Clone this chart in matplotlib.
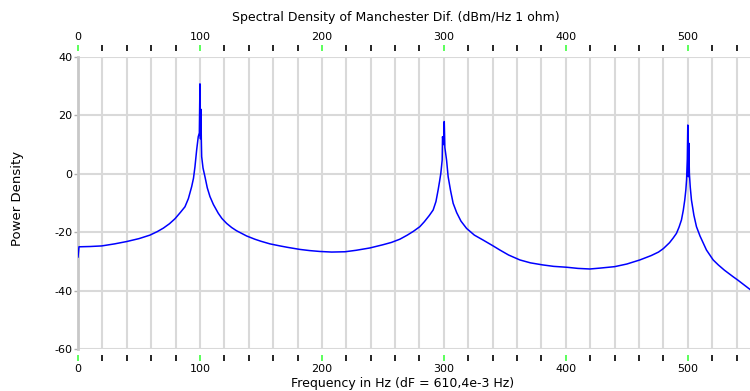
import matplotlib
matplotlib.use("Agg")
import matplotlib.pyplot as plt
from matplotlib.ticker import MultipleLocator

plt.rcParams['font.family'] = ['DejaVu Sans']
plt.rcParams['axes.unicode_minus'] = False

# Power spectral density of the Manchester-coded signal (dBm/Hz)
freq_hz = [0, 0.8, 10, 19.4, 30, 39.9, 50, 59, 65, 70, 75, 79.5, 84, 87.7, 90.5, 93.2,
           94.7, 95.9, 97.3, 98.6, 99.5, 100.0, 100.4, 100.8, 101.1, 101.4, 102.5, 104.1,
           106, 108.2, 111, 115, 118, 121.9, 126, 130, 138.3, 145, 150, 157.4, 165.6,
           172, 182, 190, 198.4, 208, 218.9, 228, 239.3, 250, 257, 263.9, 270, 275,
           280.3, 284, 288, 291.2, 293.5, 295.3, 296.5, 297.5, 298.6, 298.9, 299.7,
           300.3, 300.8, 302.2, 303.5, 305.5, 307.6, 310.5, 314, 318.6, 325, 332.2,
           340, 345.9, 353, 362.3, 371, 381, 390, 400.6, 410, 419.7, 427.9, 440, 450,
           460.7, 470, 476, 480, 485, 488, 490.7, 492.8, 494.8, 496.3, 497.5, 498.4,
           499.0, 499.6, 500.0, 500.4, 500.8, 501.3, 502.0, 503, 505, 507.1, 510,
           515.3, 520.8, 525, 530, 537, 541, 546, 551]
psd_dbm = [-28.5, -25.0, -24.9, -24.7, -24.0, -23.2, -22.2, -21.0, -19.8, -18.6, -17.1,
           -15.4, -13.2, -11.3, -8.5, -4.4, -1.5, 2.4, 8.2, 12.7, 14.0, 30.8, 12.0, 22.1,
           12.0, 5.9, 2.0, -1.0, -4.8, -7.8, -10.5, -13.5, -15.3, -17.0, -18.4, -19.5,
           -21.3, -22.4, -23.1, -24.0, -24.7, -25.2, -25.9, -26.3, -26.6, -26.8, -26.7,
           -26.2, -25.4, -24.3, -23.5, -22.4, -21.0, -19.7, -18.1, -16.4, -14.3, -12.4,
           -9.5, -5.5, -2.5, 0.2, 4.7, 12.7, 10.0, 17.9, 9.0, 4.7, -1.0, -5.8, -10.1,
           -13.3, -16.2, -18.7, -21.0, -22.7, -24.6, -26.1, -27.8, -29.5, -30.5, -31.2,
           -31.7, -32.0, -32.4, -32.6, -32.3, -31.8, -30.9, -29.5, -28.0, -26.8, -25.6,
           -23.6, -22.0, -20.4, -18.3, -15.8, -12.5, -9.0, -5.5, -2.0, 5.0, 16.7, -1.0,
           10.5, 0.0, -4.5, -9.0, -14.2, -18.1, -21.3, -26.1, -29.5, -31.2, -33.0, -35.2,
           -36.4, -38.0, -39.6]

x_major = [0, 100, 200, 300, 400, 500]
y_ticks = [-60, -40, -20, 0, 20, 40]

fig = plt.figure(figsize=(7.5, 3.91), dpi=100)
ax = fig.add_axes([78 / 750, 1 - 349 / 391, 672 / 750, 292 / 391])

ax.plot(freq_hz, psd_dbm, color='#0000ff', lw=1.1, zorder=3)

ax.set_xlim(0, 551)
ax.set_ylim(-60, 40)

grid_c = '#d9d9d9'
ax.xaxis.set_major_locator(MultipleLocator(100))
ax.xaxis.set_minor_locator(MultipleLocator(20))
ax.set_xticks(x_major)
ax.set_yticks(y_ticks)
ax.grid(True, which='both', axis='x', color=grid_c, lw=1.5, zorder=0)
ax.grid(True, which='major', axis='y', color=grid_c, lw=1.5, zorder=0)

for side in ('top', 'bottom'):
    ax.spines[side].set_position(('outward', 4))
    ax.spines[side].set_visible(False)
ax.spines['right'].set_visible(False)
ax.spines['left'].set_color('#c8c8c8')
ax.spines['left'].set_linewidth(2)

ax.tick_params(axis='x', which='both', top=True, bottom=True, labeltop=True,
               labelbottom=True, direction='out', labelsize=8, pad=3)
ax.tick_params(axis='x', which='major', color='#40ff40', length=4, width=1.2)
ax.tick_params(axis='x', which='minor', color='black', length=4, width=1.2)
ax.tick_params(axis='y', which='major', color='#b0b0b0', length=3, width=1,
               labelsize=8, pad=1)

fig.text(396 / 750, 1 - 18 / 391, 'Spectral Density of Manchester Dif. (dBm/Hz 1 ohm)',
         ha='center', va='center', fontsize=9)
fig.text(403 / 750, 1 - 383 / 391, 'Frequency in Hz (dF = 610,4e-3 Hz)',
         ha='center', va='center', fontsize=9)
fig.text(18 / 750, 1 - 198 / 391, 'Power Density', rotation=90,
         ha='center', va='center', fontsize=9.5)

fig.savefig('out.png', dpi=100, facecolor='white')
